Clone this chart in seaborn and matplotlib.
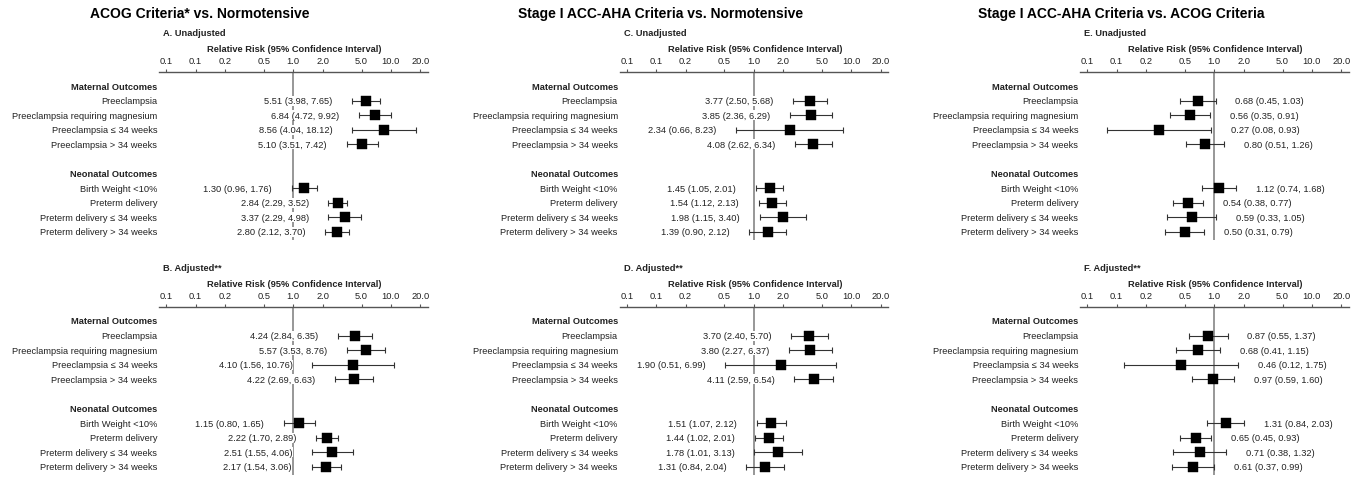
import matplotlib
matplotlib.use("Agg")
import matplotlib.pyplot as plt
import seaborn as sns
from matplotlib.ticker import NullLocator

# Outcome rows
maternal_labels = ["Preeclampsia", "Preeclampsia requiring magnesium",
                   "Preeclampsia ≤ 34 weeks", "Preeclampsia > 34 weeks"]
neonatal_labels = ["Birth Weight <10%", "Preterm delivery",
                   "Preterm delivery ≤ 34 weeks", "Preterm delivery > 34 weeks"]

# Column titles and panel names
col_titles = ["ACOG Criteria* vs. Normotensive",
              "Stage I ACC-AHA Criteria vs. Normotensive",
              "Stage I ACC-AHA Criteria vs. ACOG Criteria"]
panel_names = [["A. Unadjusted", "B. Adjusted**"],
               ["C. Unadjusted", "D. Adjusted**"],
               ["E. Unadjusted", "F. Adjusted**"]]

# Relative risks and 95% CI (maternal 4, then neonatal 4)
rr_a = [5.51, 6.84, 8.56, 5.10, 1.30, 2.84, 3.37, 2.80]
lo_a = [3.98, 4.72, 4.04, 3.51, 0.96, 2.29, 2.29, 2.12]
hi_a = [7.65, 9.92, 18.12, 7.42, 1.76, 3.52, 4.98, 3.70]

rr_b = [4.24, 5.57, 4.10, 4.22, 1.15, 2.22, 2.51, 2.17]
lo_b = [2.84, 3.53, 1.56, 2.69, 0.80, 1.70, 1.55, 1.54]
hi_b = [6.35, 8.76, 10.76, 6.63, 1.65, 2.89, 4.06, 3.06]

rr_c = [3.77, 3.85, 2.34, 4.08, 1.45, 1.54, 1.98, 1.39]
lo_c = [2.50, 2.36, 0.66, 2.62, 1.05, 1.12, 1.15, 0.90]
hi_c = [5.68, 6.29, 8.23, 6.34, 2.01, 2.13, 3.40, 2.12]

rr_d = [3.70, 3.80, 1.90, 4.11, 1.51, 1.44, 1.78, 1.31]
lo_d = [2.40, 2.27, 0.51, 2.59, 1.07, 1.02, 1.01, 0.84]
hi_d = [5.70, 6.37, 6.99, 6.54, 2.12, 2.01, 3.13, 2.04]

rr_e = [0.68, 0.56, 0.27, 0.80, 1.12, 0.54, 0.59, 0.50]
lo_e = [0.45, 0.35, 0.08, 0.51, 0.74, 0.38, 0.33, 0.31]
hi_e = [1.03, 0.91, 0.93, 1.26, 1.68, 0.77, 1.05, 0.79]

rr_f = [0.87, 0.68, 0.46, 0.97, 1.31, 0.65, 0.71, 0.61]
lo_f = [0.55, 0.41, 0.12, 0.59, 0.84, 0.45, 0.38, 0.37]
hi_f = [1.37, 1.15, 1.75, 1.60, 2.03, 0.93, 1.32, 0.99]

tick_vals = [0.05, 0.1, 0.2, 0.5, 1.0, 2.0, 5.0, 10.0, 20.0]
tick_labels = ["0.1", "0.1", "0.2", "0.5", "1.0", "2.0", "5.0", "10.0", "20.0"]

panels = [[(rr_a, lo_a, hi_a), (rr_b, lo_b, hi_b)],
          [(rr_c, lo_c, hi_c), (rr_d, lo_d, hi_d)],
          [(rr_e, lo_e, hi_e), (rr_f, lo_f, hi_f)]]

sns.set_style("white")
plt.rcParams['font.family'] = ['Liberation Sans', 'DejaVu Sans']
plt.rcParams['text.color'] = '#222222'

W, H = 1363, 481
fig = plt.figure(figsize=(W / 100, H / 100), dpi=100)

def fx(px):
    return px / W

def fy(py):
    return 1 - py / H

col_left = [159.3, 619.8, 1080.3]
axis_top = [72.5, 307.5]
ax_w, ax_h = 268.7, 168.5
row_gap = 14.6
first_row = 14.5
fs = 6.7

# rows: header 0, maternal 1-4, header 6, neonatal 7-10
rows = [1, 2, 3, 4, 7, 8, 9, 10]
all_labels = maternal_labels + neonatal_labels

for c in range(3):
    fig.text(fx(col_left[c] + 40.7), fy(14.3), col_titles[c], ha='center', va='center',
             fontsize=10, fontweight='bold', color='black')
    for r in range(2):
        top = axis_top[r]
        left = col_left[c]
        ax = fig.add_axes([fx(left), fy(top + ax_h), ax_w / W, ax_h / H])
        rr, lo, hi = panels[c][r]
        ax.set_xscale('log')

        ax.axvline(1, color='#7a7a7a', lw=1.1, zorder=1)
        ax.errorbar(rr, rows,
                    xerr=[[v - l for v, l in zip(rr, lo)], [h - v for v, h in zip(rr, hi)]],
                    fmt='none', ecolor='#333333', elinewidth=0.8, capsize=2.4, capthick=0.8, zorder=3)
        sns.scatterplot(x=rr, y=rows, marker='s', s=44, color='black', edgecolor='black',
                        linewidth=0.3, ax=ax, zorder=4, legend=False)

        for v, l, h, y in zip(rr, lo, hi, rows):
            txt = f"{v:.2f} ({l:.2f}, {h:.2f})"
            if c < 2:
                ax.annotate(txt, xy=(l, y), xytext=(-14.2, 0), textcoords='offset points',
                            ha='right', va='center', fontsize=fs, zorder=2,
                            bbox=dict(fc='white', ec='none', pad=0.4))
            else:
                ax.annotate(txt, xy=(h, y), xytext=(14.2, 0), textcoords='offset points',
                            ha='left', va='center', fontsize=fs, zorder=2,
                            bbox=dict(fc='white', ec='none', pad=0.4))

        ytr = ax.get_yaxis_transform()
        ax.text(-2 / ax_w, 0, "Maternal Outcomes", transform=ytr, ha='right', va='center',
                fontsize=fs, fontweight='bold')
        ax.text(-2 / ax_w, 6, "Neonatal Outcomes", transform=ytr, ha='right', va='center',
                fontsize=fs, fontweight='bold')
        for lab, y in zip(all_labels, rows):
            ax.text(-2 / ax_w, y, lab, transform=ytr, ha='right', va='center', fontsize=fs)

        ax.set_xlim(0.0424, 24.0)
        ax.set_ylim((ax_h - first_row) / row_gap, -first_row / row_gap)
        ax.xaxis.tick_top()
        ax.set_xticks(tick_vals)
        ax.set_xticklabels(tick_labels)
        ax.xaxis.set_minor_locator(NullLocator())
        ax.tick_params(axis='x', direction='out', length=2.2, width=0.8, pad=2.2,
                       labelsize=fs, colors='#555555', labelcolor='#222222')
        ax.set_yticks([])
        ax.set_xlabel('')
        ax.set_ylabel('')
        for s in ['bottom', 'left', 'right']:
            ax.spines[s].set_visible(False)
        ax.spines['top'].set_color('#555555')
        ax.spines['top'].set_linewidth(1.0)
        ax.patch.set_alpha(0)

        fig.text(fx(left + 4), fy(top - 38.5), panel_names[c][r], ha='left', va='center',
                 fontsize=fs, fontweight='bold')
        fig.text(fx(left + ax_w / 2 + 1), fy(top - 23.4), "Relative Risk (95% Confidence Interval)",
                 ha='center', va='center', fontsize=fs, fontweight='bold')

fig.savefig("out.png", dpi=100)
